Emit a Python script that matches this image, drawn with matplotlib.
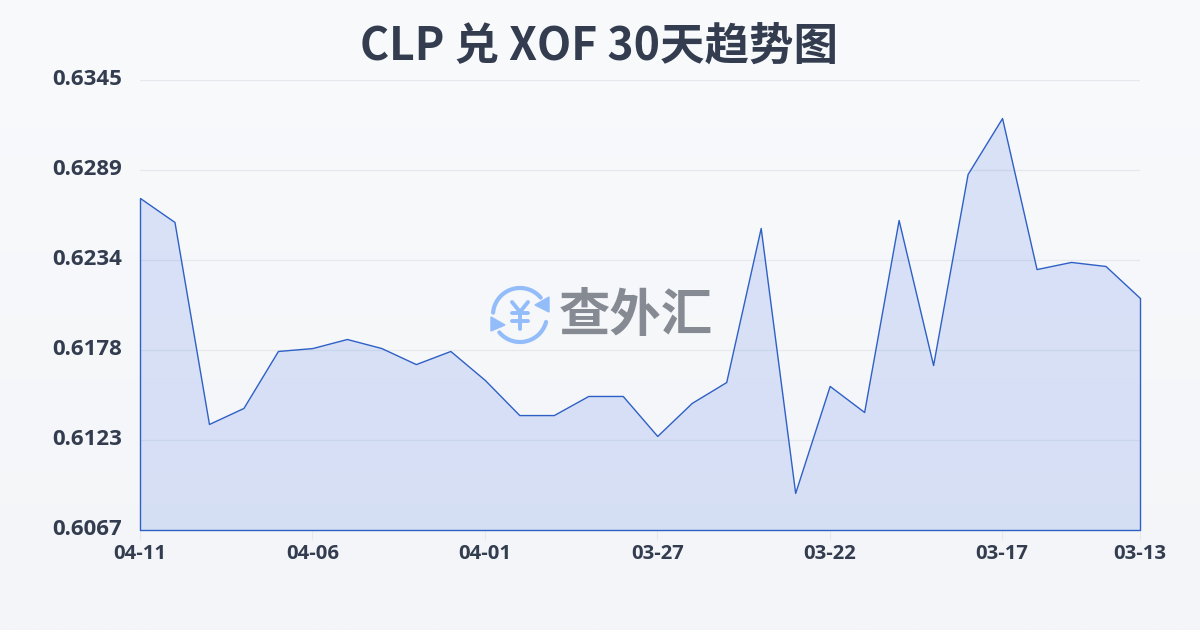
import numpy as np
import matplotlib
matplotlib.use('Agg')
import matplotlib.pyplot as plt
from matplotlib.colors import to_rgba
from matplotlib.patches import Polygon
from matplotlib.transforms import ScaledTranslation

plt.rcParams['font.family'] = ['Noto Sans CJK SC', 'DejaVu Sans']

# Data, newest first as in the chart
rates = [0.62721, 0.62573, 0.61325, 0.61424, 0.61776, 0.61794, 0.61850, 0.61794,
         0.61695, 0.61776, 0.61597, 0.61380, 0.61380, 0.61498, 0.61498, 0.61251,
         0.61455, 0.61584, 0.62536, 0.60899, 0.61560, 0.61399, 0.62585, 0.61689,
         0.62869, 0.63215, 0.62282, 0.62326, 0.62301, 0.62103]
x_pos = list(range(len(rates)))
x_tick_pos = [0, 5, 10, 15, 20, 25, 29]
x_labels = ['04-11', '04-06', '04-01', '03-27', '03-22', '03-17', '03-13']
y_bottom = 0.6067
y_top = 0.6345
y_labels = ['0.6345', '0.6289', '0.6234', '0.6178', '0.6123', '0.6067']
title = 'CLP 兑 XOF 30天趋势图'

W, H = 1200, 630
TEXT = '#333d4f'
LINE = '#2f60c6'
GRID = '#e6e8ed'
ICON = '#93bcfa'

fig = plt.figure(figsize=(W / 100, H / 100), dpi=100)

# Background gradient
bg = fig.add_axes([0, 0, 1, 1], zorder=0)
bg.imshow(np.linspace(0, 1, 256).reshape(-1, 1),
          cmap=matplotlib.colors.LinearSegmentedColormap.from_list(
              'bg', ['#f8fafc', '#f3f5f8']),
          aspect='auto', extent=[0, 1, 0, 1])
bg.axis('off')

ax = fig.add_axes([140 / W, 1 - 530 / H, 1000 / W, 450 / H], zorder=1)
ax.patch.set_alpha(0)
ax.set_xlim(x_pos[0], x_pos[-1])
ax.set_ylim(y_bottom, y_top)

# Translucent fill so the gridlines show through, opaque outline
ax.fill_between(x_pos, rates, y_bottom, facecolor=to_rgba('#2f62e0', 0.15),
                edgecolor=LINE, linewidth=1.0, zorder=2, clip_on=False)

y_ticks = np.linspace(y_top, y_bottom, len(y_labels))
ax.set_yticks(y_ticks)
ax.set_yticklabels(y_labels, fontsize=16, fontweight='bold', color=TEXT,
                   family=['Open Sans', 'DejaVu Sans'])
ax.set_xticks(x_tick_pos)
ax.set_xticklabels(x_labels, fontsize=14.6, fontweight='bold', color=TEXT,
                   family=['Open Sans', 'DejaVu Sans'])
ax.tick_params(axis='y', length=0, pad=13)
ax.tick_params(axis='x', length=7, width=0.8, color=GRID, pad=3)
ax.grid(axis='y', color=GRID, linewidth=0.9)
ax.set_axisbelow(True)
for s in ax.spines.values():
    s.set_visible(False)

# Labels sit a little above their gridlines in the original
up = ScaledTranslation(0, 2 / 72, fig.dpi_scale_trans)
for lab in ax.get_yticklabels():
    lab.set_transform(lab.get_transform() + up)

fig.text(599 / W, 1 - 47 / H, title, ha='center', va='center', fontsize=32,
         fontweight='bold', color=TEXT)

# Watermark logo on a pixel overlay
ov = fig.add_axes([0, 0, 1, 1], zorder=3)
ov.set_xlim(0, W)
ov.set_ylim(H, 0)
ov.axis('off')
ov.patch.set_alpha(0)

cx, cy, r = 520, 315, 27
for a0, a1 in [(175, 40), (-15, -140)]:
    t = np.radians(np.linspace(a0, a1, 40))
    ov.plot(cx + r * np.cos(t), cy - r * np.sin(t), color=ICON, lw=3.0,
            solid_capstyle='round')
ov.add_patch(Polygon([(549, 297), (549, 312), (535, 305)], color=ICON))
ov.add_patch(Polygon([(491, 317), (491, 331), (505, 325)], color=ICON))
ov.plot([512, 520, 528], [302, 312, 302], color=ICON, lw=2.8, solid_capstyle='round')
ov.plot([512, 528], [313, 313], color=ICON, lw=2.8, solid_capstyle='round')
ov.plot([512, 528], [321, 321], color=ICON, lw=2.8, solid_capstyle='round')
ov.plot([520, 520], [312, 329], color=ICON, lw=2.8, solid_capstyle='round')
ov.text(636, 315, '查外汇', ha='center', va='center', fontsize=37,
        fontweight='bold', color='#868a92')

fig.savefig('out.png', dpi=100)
